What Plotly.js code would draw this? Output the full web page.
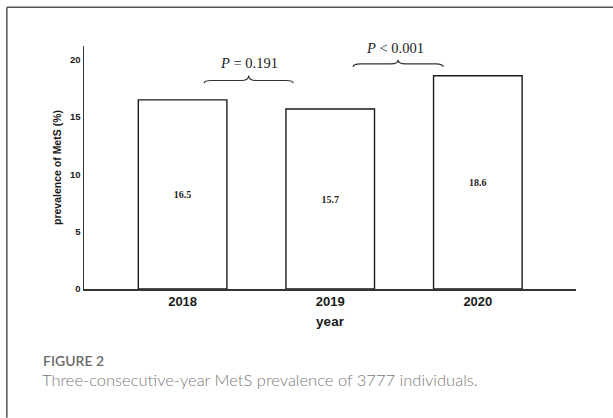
<!DOCTYPE html>
<html>
<head>
<meta charset="utf-8">
<script src="https://cdn.plot.ly/plotly-3.0.1.min.js"></script>
<style>
  html, body { margin: 0; padding: 0; background: #fff; }
  #chart { width: 613px; height: 418px; }
</style>
</head>
<body>
<div id="chart"></div>
<script>
// ---- data ----
const years = ['2018', '2019', '2020'];
const prevalence = [16.5, 15.7, 18.6];
const yTickValues = [0, 5, 10, 15, 20];
const comparisonLabels = ['<i>P</i> = 0.191', '<i>P</i> &lt; 0.001'];
const comparisonPairs = [[0, 1], [1, 2]];

// ---- layout helpers ----
const xIdx = years.map((_, i) => i);
const L = 83.7, R = 37, T = 45.7, B = 129, W = 613, H = 418;
const pw = W - L - R, ph = H - T - B;
const px = v => (v - L) / pw;          // pixel -> paper x
const py = v => (H - B - v) / ph;      // pixel -> paper y

// brace geometry (in data units), per comparison
const braceSpec = [
  {x0: 0.146, x1: 0.749, yEnd: 17.96, yLine: 18.19, yPeak: 18.63, ty: 19.72},
  {x0: 1.155, x1: 1.765, yEnd: 19.36, yLine: 19.64, yPeak: 20.0, ty: 21.04}
];

function bracePath(b) {
  const xm = (b.x0 + b.x1) / 2, d = 0.05;
  return `M${b.x0},${b.yEnd} Q${b.x0},${b.yLine} ${b.x0 + d},${b.yLine} ` +
         `L${xm - d},${b.yLine} Q${xm},${b.yLine} ${xm},${b.yPeak} ` +
         `Q${xm},${b.yLine} ${xm + d},${b.yLine} L${b.x1 - d},${b.yLine} ` +
         `Q${b.x1},${b.yLine} ${b.x1},${b.yEnd}`;
}

const shapes = braceSpec.map(b => ({
  type: 'path', xref: 'x', yref: 'y', path: bracePath(b),
  line: {color: '#333', width: 1.1}
}));
// outer frame (top and left edges of the figure box)
shapes.push({type: 'line', xref: 'paper', yref: 'paper',
  x0: px(6.5), x1: px(613), y0: py(7), y1: py(7), line: {color: '#555', width: 1.5}});
shapes.push({type: 'line', xref: 'paper', yref: 'paper',
  x0: px(6.5), x1: px(6.5), y0: py(7), y1: py(418), line: {color: '#555', width: 1.5}});

const annotations = comparisonLabels.map((t, i) => ({
  x: (comparisonPairs[i][0] + comparisonPairs[i][1]) / 2 - 0.05 + (i === 1 ? -0.01 : 0),
  y: braceSpec[i].ty, xref: 'x', yref: 'y', text: t, showarrow: false,
  font: {family: 'Liberation Serif, Times New Roman, serif', size: 14.5, color: '#222'}
}));
annotations.push({
  x: px(41), y: py(361), xref: 'paper', yref: 'paper', xanchor: 'left', yanchor: 'middle',
  text: 'FIGURE 2', showarrow: false,
  font: {family: 'Lato, Open Sans, sans-serif', size: 14, color: '#6a6a6a', weight: 600}
});
annotations.push({
  x: px(40), y: py(380), xref: 'paper', yref: 'paper', xanchor: 'left', yanchor: 'middle',
  text: 'Three-consecutive-year MetS prevalence of 3777 individuals.', showarrow: false,
  font: {family: 'Lato, Open Sans, sans-serif', size: 16.5, color: '#7a7a7a', weight: 300}
});

const trace = {
  type: 'bar', x: xIdx, y: prevalence, width: 0.6,
  marker: {color: '#ffffff', line: {color: '#1a1a1a', width: 1.4}},
  texttemplate: '<b>%{y}</b>', textposition: 'inside', insidetextanchor: 'middle',
  textangle: 0,
  textfont: {family: 'Liberation Serif, Times New Roman, serif', size: 10, color: '#222'},
  hoverinfo: 'skip', cliponaxis: false
};

const layout = {
  width: W, height: H, margin: {l: L, r: R, t: T, b: B, pad: 0},
  paper_bgcolor: '#fff', plot_bgcolor: '#fff', showlegend: false,
  font: {family: 'Liberation Sans, Arial, sans-serif', color: '#1a1a1a'},
  xaxis: {
    range: [-0.668, 2.665], tickvals: xIdx, ticktext: years, showgrid: false,
    zeroline: false, showline: true, linecolor: '#333', linewidth: 1.5, ticks: '',
    tickfont: {size: 13, weight: 'bold', color: '#1a1a1a'}, fixedrange: true,
    title: {text: '<b>year</b>', font: {size: 13.5, color: '#1a1a1a'}, standoff: 8}
  },
  yaxis: {
    range: [0, 21.2], tickvals: yTickValues, showgrid: false, zeroline: false,
    showline: true, linecolor: '#333', linewidth: 1.5, ticks: '',
    tickfont: {size: 9.5, weight: 'bold', color: '#1a1a1a'}, fixedrange: true,
    title: {text: '<b>prevalence of MetS (%)</b>', font: {size: 10.5, color: '#1a1a1a'}, standoff: 6}
  },
  shapes: shapes, annotations: annotations
};

Plotly.newPlot('chart', [trace], layout, {staticPlot: true, displayModeBar: false});
</script>
</body>
</html>
